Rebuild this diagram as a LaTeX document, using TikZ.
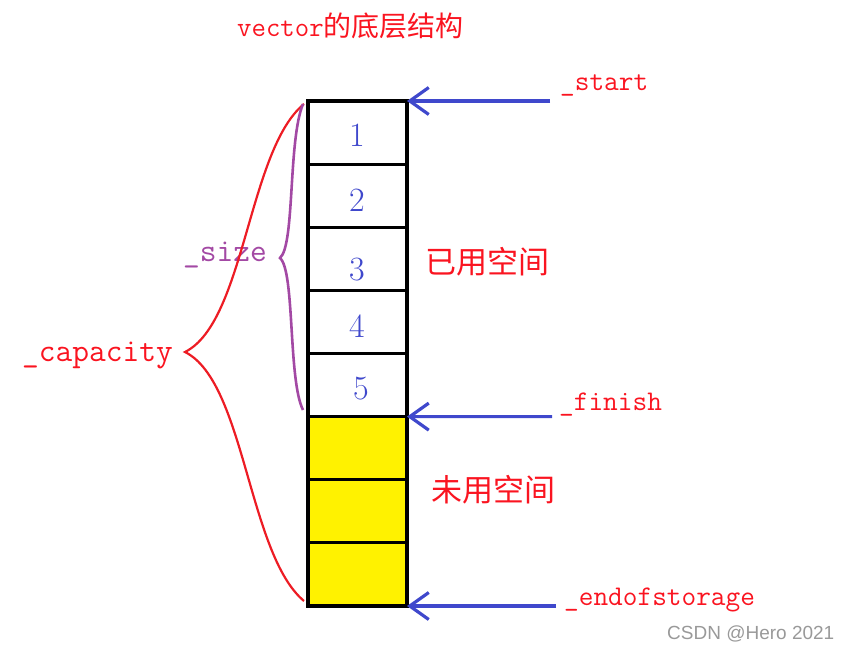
\documentclass[tikz,border=0pt]{standalone}
\usepackage{fontspec}
\newfontfamily\cjk{Noto Sans CJK SC}
\newfontfamily\wmark{Liberation Sans}
\usetikzlibrary{arrows.meta}
\definecolor{pblue}{HTML}{3F48CC}
\definecolor{pred}{HTML}{ED1C24}
\definecolor{tred}{HTML}{FA1420}
\definecolor{ppurple}{HTML}{A349A4}
\definecolor{pyellow}{HTML}{FFF200}
\tikzset{
  cell/.style={draw=black, line width=3.2pt, minimum width=99pt, minimum height=63.125pt, inner sep=0pt, outer sep=0pt},
  used/.style={cell, fill=white},
  free/.style={cell, fill=pyellow},
  num/.style={text=pblue, font=\fontsize{34}{34}\selectfont, inner sep=0pt},
  lbl/.style={anchor=west, inner sep=0pt, text=tred},
  ptr/.style={draw=pblue, line width=3.2pt, -{Straight Barb[length=19pt,width=27pt]}},
  bigbrace/.style={draw=pred, line width=2.2pt},
  smallbrace/.style={draw=ppurple, line width=2.6pt},
}
\begin{document}
\begin{tikzpicture}[x=1pt,y=-1pt]
\useasboundingbox (0,0) rectangle (848,652);
% cells
\foreach \i in {1,...,5}{
  \node[used] (c\i) at (357.5,{101+63.125*(\i-0.5)}) {};
}
\foreach \i in {6,7,8}{
  \node[free] (c\i) at (357.5,{101+63.125*(\i-0.5)}) {};
}
% numbers
\node[num] (n1) at (357,135) {1};
\node[num] (n2) at (357,200) {2};
\node[num] (n3) at (357,270) {3};
\node[num] (n4) at (357,326) {4};
\node[num] (n5) at (361,389) {5};
% title
\node[lbl] (title) at (237,26) {\fontsize{28}{28}\selectfont\ttfamily vector\cjk 的底层结构};
% pointer labels
\node[lbl] (lstart) at (560,85) {\fontsize{28.5}{28}\selectfont\ttfamily \_start};
\node[lbl] (lfinish) at (559,405) {\fontsize{28.5}{28}\selectfont\ttfamily \_finish};
\node[lbl] (lend) at (564,600) {\fontsize{28.5}{28}\selectfont\ttfamily \_endofstorage};
% region labels
\node[lbl] (lused) at (425,262) {\fontsize{31}{31}\selectfont\cjk 已用空间};
\node[lbl] (lfree) at (431,490) {\fontsize{31}{31}\selectfont\cjk 未用空间};
\node[lbl, text=ppurple] (lsize) at (183,255) {\fontsize{32.5}{32}\selectfont\ttfamily \_size};
\node[lbl] (lcap) at (22,355) {\fontsize{32.5}{32}\selectfont\ttfamily \_capacity};
% watermark
\node[anchor=west, inner sep=0pt, text=black!40] (wm) at (667,634) {\fontsize{19}{19}\selectfont\wmark CSDN @Hero 2021};
% pointer arrows
\coordinate (sstart) at (550,101);
\coordinate (sfinish) at (552,416.6);
\coordinate (send) at (556,606);
\draw[ptr] (sstart) -- (c1.north east);
\draw[ptr] (sfinish) -- (c5.south east);
\draw[ptr] (send) -- (c8.south east);
% braces
\coordinate (btop) at (304,104);
\coordinate (bbot) at (304,601);
\coordinate (btip) at (185,352);
\coordinate (stop) at (303,104);
\coordinate (sbot) at (303,410);
\coordinate (stip) at (280,258);
\draw[bigbrace] (btop) .. controls (248,150) and (245,322) .. (btip)
                       .. controls (245,382) and (248,554) .. (bbot);
\draw[smallbrace] (stop) .. controls (288,140) and (295,245) .. (stip)
                         .. controls (295,271) and (288,380) .. (sbot);
\end{tikzpicture}
\end{document}
